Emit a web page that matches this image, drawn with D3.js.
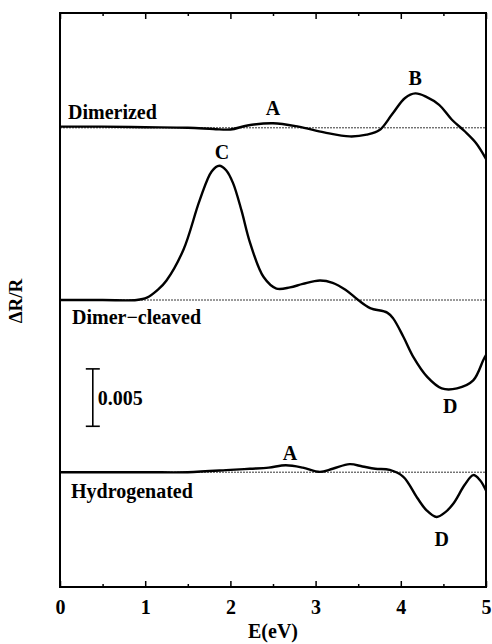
<!DOCTYPE html>
<html>
  <head>
    <meta charset="utf-8">
    <title>Reflectance anisotropy spectra</title>
    <script src="https://d3js.org/d3.v7.min.js"></script>
    <style>
      body { margin: 0; background: #fff; }
      svg text { font-family: "Liberation Serif", "Times New Roman", Times, serif; font-weight: bold; fill: #000; }
    </style>
  </head>
  <body>
    <svg width="492" height="644"></svg>
    <script>
      // energies (eV) and dR/R values
      var dimerizedE  = [0, 0.5, 1.0, 1.5, 1.8, 2.0, 2.2, 2.5, 2.8, 3.1, 3.4, 3.6, 3.75, 3.9, 4.05, 4.17, 4.3, 4.45, 4.6, 4.75, 4.88, 5.0];
      var dimerizedR  = [0.0001, 0.0001, 0.00005, 0, -0.0001, -0.00015, 0.0002, 0.0004, 0.0001, -0.0004, -0.00075, -0.0006, -0.0002, 0.0012, 0.0026, 0.0030, 0.0027, 0.0020, 0.0007, -0.0003, -0.0013, -0.0027];

      var cleavedE = [0, 0.5, 0.9, 1.02, 1.15, 1.25, 1.45, 1.64, 1.78, 1.87, 1.95, 2.03, 2.13, 2.23, 2.39, 2.54, 2.7, 2.85, 3.05, 3.2, 3.35, 3.5, 3.64, 3.84, 3.91, 4.03, 4.15, 4.31, 4.48, 4.66, 4.85, 4.97, 5.0];
      var cleavedR = [0, 0, 0, 0.0002, 0.0009, 0.0017, 0.0044, 0.0087, 0.0112, 0.0117, 0.0113, 0.0102, 0.0078, 0.0050, 0.0020, 0.0010, 0.0011, 0.0014, 0.0017, 0.0015, 0.0009, 0.0, -0.0007, -0.0011, -0.0016, -0.0032, -0.0050, -0.0067, -0.0077, -0.0077, -0.0070, -0.0052, -0.0048];

      var hydroE = [0, 1.0, 1.5, 2.0, 2.23, 2.45, 2.65, 2.85, 3.05, 3.2, 3.4, 3.55, 3.7, 3.87, 4.03, 4.19, 4.3, 4.42, 4.52, 4.62, 4.75, 4.85, 4.93, 5.0];
      var hydroR = [0, 0, 0, 0.0002, 0.0003, 0.0004, 0.0006, 0.0004, 0.00003, 0.0003, 0.0007, 0.0005, 0.0003, 0.0002, -0.0004, -0.0022, -0.0033, -0.0039, -0.0035, -0.0027, -0.0011, -0.00025, -0.0007, -0.0016];

      // vertical offsets of the three spectra
      var offsets = [0.030, 0.015, 0];
      var names = ["Dimerized", "Dimer\u2212cleaved", "Hydrogenated"];

      var xTicks = [0, 1, 2, 3, 4, 5];
      var xMinor = [0.5, 1.5, 2.5, 3.5, 4.5];

      var margin = { top: 13, right: 6, bottom: 57, left: 60 },
          width = 492 - margin.left - margin.right,
          height = 644 - margin.top - margin.bottom;

      var svg = d3.select("svg")
        .append("g")
        .attr("transform", "translate(" + margin.left + "," + margin.top + ")");

      var x = d3.scaleLinear().domain([0, 5]).range([0, width]);
      var y = d3.scaleLinear().domain([-0.010, 0.040]).range([height, 0]);

      var series = [
        { E: dimerizedE, R: dimerizedR },
        { E: cleavedE, R: cleavedR },
        { E: hydroE, R: hydroR }
      ];

      // dotted zero lines
      svg.selectAll(".zero")
        .data(offsets)
        .enter()
        .append("line")
        .attr("x1", 0)
        .attr("x2", width)
        .attr("y1", function(d) { return y(d); })
        .attr("y2", function(d) { return y(d); })
        .attr("stroke", "#000")
        .attr("stroke-width", 0.8)
        .attr("stroke-dasharray", "2,1");

      var line = d3.line()
        .x(function(d) { return x(d[0]); })
        .y(function(d) { return y(d[1]); })
        .curve(d3.curveCatmullRom.alpha(0.5));

      svg.selectAll(".spec")
        .data(series)
        .enter()
        .append("path")
        .attr("fill", "none")
        .attr("stroke", "#000")
        .attr("stroke-width", 2.4)
        .attr("d", function(s, i) {
          return line(s.E.map(function(e, j) { return [e, s.R[j] + offsets[i]]; }));
        });

      // axes with inward ticks
      var xAxis = d3.axisBottom(x).tickValues(xTicks).tickSize(-6).tickSizeOuter(0)
        .tickFormat(d3.format("d")).tickPadding(13);
      var gx = svg.append("g").attr("transform", "translate(0," + height + ")").call(xAxis);
      gx.append("g").call(d3.axisBottom(x).tickValues(xMinor).tickSize(-3).tickFormat(""));
      var gt = svg.append("g").call(d3.axisTop(x).tickValues(xTicks).tickSize(-6).tickFormat(""));
      gt.append("g").call(d3.axisTop(x).tickValues(xMinor).tickSize(-3).tickFormat(""));

      svg.selectAll(".domain").remove();
      svg.selectAll(".tick line").attr("stroke", "#000").attr("stroke-width", 1.5);
      gx.selectAll(".tick text")
        .style("font-family", "'Liberation Serif', 'Times New Roman', serif")
        .style("font-weight", "bold")
        .style("font-size", "20px");

      // frame
      svg.append("rect")
        .attr("x", 0).attr("y", 0)
        .attr("width", width).attr("height", height)
        .attr("fill", "none")
        .attr("stroke", "#000")
        .attr("stroke-width", 2);

      // axis titles
      svg.append("text")
        .attr("x", width / 2)
        .attr("y", height + 51)
        .attr("text-anchor", "middle")
        .style("font-size", "20px")
        .text("E(eV)");

      svg.append("text")
        .attr("transform", "translate(-38," + (301 - margin.top) + ") rotate(-90)")
        .attr("text-anchor", "middle")
        .style("font-size", "19px")
        .text("\u0394R/R");

      // spectrum names
      var nameY = [0.0308, 0.0129, -0.00227];
      var nameX = [8, 12, 11];
      svg.selectAll(".name")
        .data(names)
        .enter()
        .append("text")
        .attr("x", function(d, i) { return nameX[i]; })
        .attr("y", function(d, i) { return y(nameY[i]); })
        .style("font-size", "20px")
        .text(function(d) { return d; });

      // peak letters
      var letters = [
        { t: "A", e: 2.50, v: 0.0311 },
        { t: "B", e: 4.17, v: 0.0337 },
        { t: "C", e: 1.90, v: 0.0273 },
        { t: "D", e: 4.58, v: 0.0052 },
        { t: "A", e: 2.70, v: 0.00105 },
        { t: "D", e: 4.48, v: -0.0064 }
      ];
      svg.selectAll(".letter")
        .data(letters)
        .enter()
        .append("text")
        .attr("x", function(d) { return x(d.e); })
        .attr("y", function(d) { return y(d.v); })
        .attr("text-anchor", "middle")
        .style("font-size", "20px")
        .text(function(d) { return d.t; });

      // 0.005 scale bar
      var barX = x(0.385);
      var barEnds = [0.009, 0.004];
      var bar = svg.append("g");
      bar.append("line")
        .attr("x1", barX).attr("x2", barX)
        .attr("y1", y(barEnds[0])).attr("y2", y(barEnds[1]))
        .attr("stroke", "#000").attr("stroke-width", 1.6);
      bar.selectAll(".cap")
        .data(barEnds)
        .enter()
        .append("line")
        .attr("x1", barX - 7).attr("x2", barX + 7)
        .attr("y1", function(d) { return y(d); })
        .attr("y2", function(d) { return y(d); })
        .attr("stroke", "#000").attr("stroke-width", 1.6);
      bar.append("text")
        .attr("x", barX + 5)
        .attr("y", y(0.00584))
        .style("font-size", "20px")
        .text("0.005");
    </script>
  </body>
</html>
